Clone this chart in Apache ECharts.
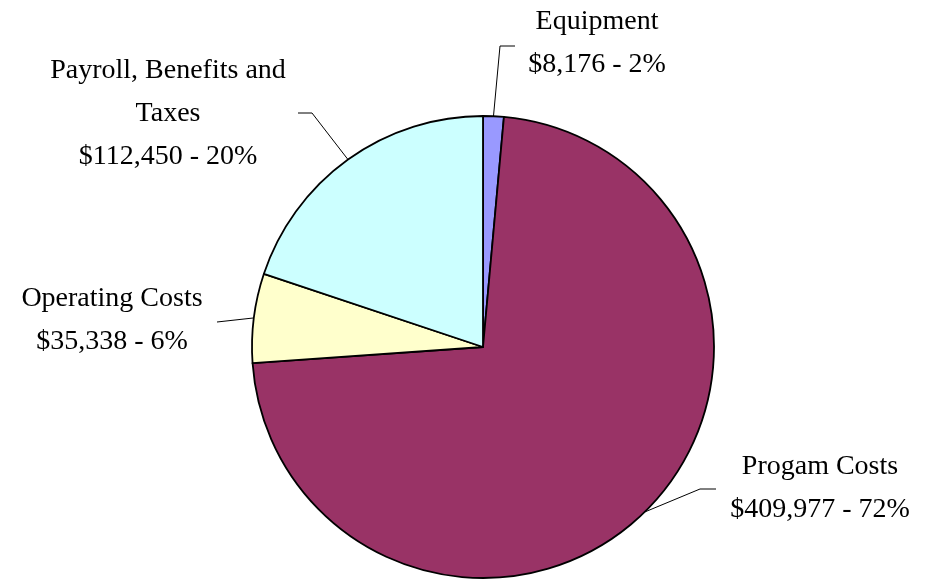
<!DOCTYPE html>
<html>
<head>
<meta charset="utf-8">
<script src="https://cdn.jsdelivr.net/npm/echarts@6/dist/echarts.min.js"></script>
<style>html,body{margin:0;padding:0;background:#fff;}#c{width:925px;height:580px;}</style>
</head>
<body>
<div id="c"></div>
<script>
const categories = ['Equipment', 'Progam Costs', 'Operating Costs', 'Payroll, Benefits and\nTaxes'];
const values = [8176, 409977, 35338, 112450];
const percentLabels = ['2%', '72%', '6%', '20%'];
const colors = ['#9999FF', '#993366', '#FFFFCC', '#CCFFFF'];

// label placement (block centre) and leader-line bends
const labelPos = [
  {x: 597, y: 43, line: [[500, 46], [515, 46]]},
  {x: 820, y: 488, line: [[700, 489], [716, 489]]},
  {x: 112, y: 320, line: [[217, 322]]},
  {x: 168, y: 114, line: [[312, 113], [298, 113]]}
];

const data = categories.map((c, i) => ({
  name: c,
  value: values[i],
  itemStyle: {color: colors[i]}
}));

const chart = echarts.init(document.getElementById('c'), null, {renderer: 'canvas'});
chart.setOption({
  backgroundColor: '#fff',
  animation: false,
  series: [{
    type: 'pie',
    center: [483, 347],
    radius: 231,
    startAngle: 90,
    clockwise: true,
    avoidLabelOverlap: false,
    data: data,
    itemStyle: {borderColor: '#000', borderWidth: 1.8},
    label: {
      show: true,
      position: 'outside',
      fontFamily: 'Liberation Serif',
      fontSize: 28,
      lineHeight: 43,
      color: '#000',
      align: 'center',
      formatter: function (p) {
        return p.name + '\n$' + p.value.toLocaleString('en-US') + ' - ' + percentLabels[p.dataIndex];
      }
    },
    labelLine: {show: true, lineStyle: {color: '#000', width: 1}, length: 10, length2: 10, smooth: false},
    labelLayout: function (params) {
      const i = params.dataIndex;
      const lp = labelPos[i];
      const start = params.labelLinePoints ? params.labelLinePoints[0] : null;
      const res = {x: lp.x, y: lp.y, align: 'center', verticalAlign: 'middle'};
      if (start) res.labelLinePoints = [start].concat(lp.line);
      return res;
    },
    emphasis: {disabled: true}
  }]
});
</script>
</body>
</html>
